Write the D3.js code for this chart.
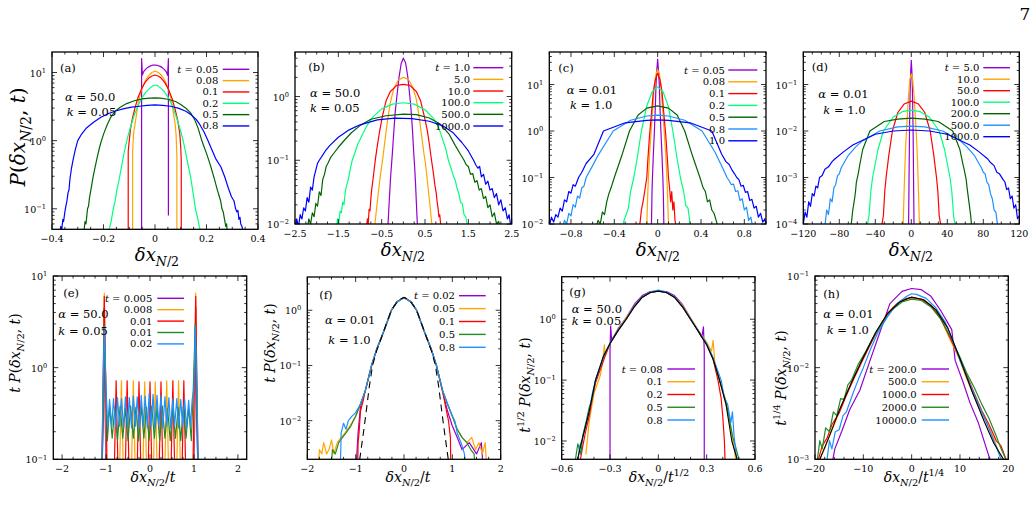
<!DOCTYPE html>
<html>
<head>
<meta charset="utf-8">
<script src="https://cdn.jsdelivr.net/npm/d3@7"></script>
<style>
body { margin: 0; background: #fff; }
</style>
</head>
<body>
<svg id="fig" width="1036" height="517"></svg>
<script>
var FONT = "'DejaVu Serif', serif";

// ---------- panel (a): alpha = 50, k = 0.05 ----------
var aTimes = ["0.05", "0.08", "0.1", "0.2", "0.5", "0.8"];
var aXTicks = [-0.4, -0.2, 0, 0.2, 0.4];
var aXLabels = ["\u22120.4", "\u22120.2", "0", "0.2", "0.4"];
var aYTicks = [0.1, 1, 10];
var aYExp = ["\u22121", "0", "1"];
var aT005 = [[-0.052,0.03],[-0.052,16],[-0.049,9.2],[-0.044,10.3],[-0.036,11.2],[-0.028,11.9],[-0.02,12.4],[-0.01,12.8],[0,12.9],[0.01,12.7],[0.02,12.3],[0.028,11.8],[0.036,11.1],[0.044,10.2],[0.049,9.1],[0.052,16],[0.052,0.08]];
var aT008 = [[-0.087,0.03],[-0.087,0.7],[-0.083,1.3],[-0.078,1.7],[-0.072,2.4],[-0.065,3.6],[-0.055,5.2],[-0.045,6.6],[-0.035,7.9],[-0.025,9],[-0.012,10],[0,10.5],[0.012,10.1],[0.025,9.1],[0.035,8],[0.045,6.7],[0.055,5.3],[0.065,3.7],[0.072,2.5],[0.078,1.8],[0.082,1.2],[0.085,0.6],[0.085,0.03]];
var aT01 = [[-0.104,0.03],[-0.104,0.7],[-0.1,1.0],[-0.095,1.5],[-0.088,2.1],[-0.078,3.0],[-0.066,4.3],[-0.052,5.8],[-0.038,7.2],[-0.024,8.3],[-0.012,8.9],[0,9.2],[0.012,8.9],[0.024,8.3],[0.038,7.1],[0.052,5.7],[0.066,4.2],[0.078,2.9],[0.088,2.0],[0.096,1.3],[0.1,0.8],[0.102,0.5],[0.102,0.03]];
var aT02 = [[-0.19,0.04],[-0.178,0.05],[-0.17,0.066],[-0.162,0.1],[-0.155,0.13],[-0.148,0.19],[-0.14,0.26],[-0.132,0.38],[-0.124,0.55],[-0.116,0.78],[-0.108,1.05],[-0.095,1.6],[-0.08,2.4],[-0.065,3.3],[-0.05,4.3],[-0.035,5.2],[-0.02,5.9],[-0.008,6.4],[0,6.5],[0.008,6.5],[0.02,6.0],[0.035,5.3],[0.05,4.4],[0.065,3.4],[0.08,2.4],[0.095,1.6],[0.108,1.05],[0.118,0.7],[0.128,0.45],[0.138,0.3],[0.148,0.17],[0.157,0.1],[0.165,0.075],[0.172,0.055],[0.178,0.045]];
var aT05 = [[-0.285,0.04],[-0.28,0.05],[-0.276,0.045],[-0.272,0.065],[-0.268,0.06],[-0.262,0.1],[-0.258,0.11],[-0.255,0.14],[-0.248,0.2],[-0.24,0.3],[-0.232,0.42],[-0.224,0.58],[-0.216,0.78],[-0.208,1.0],[-0.198,1.3],[-0.186,1.7],[-0.172,2.2],[-0.155,2.7],[-0.135,3.1],[-0.11,3.5],[-0.08,3.85],[-0.05,4.1],[-0.02,4.2],[0,4.25],[0.02,4.2],[0.05,4.05],[0.08,3.75],[0.1,3.4],[0.12,3.0],[0.14,2.5],[0.155,2.0],[0.168,1.5],[0.18,1.05],[0.19,0.82],[0.2,0.65],[0.21,0.5],[0.218,0.4],[0.23,0.28],[0.242,0.19],[0.25,0.15],[0.255,0.13],[0.26,0.1],[0.265,0.09],[0.27,0.07],[0.275,0.055],[0.278,0.06],[0.282,0.04]];
var aT08 = [[-0.37,0.045],[-0.366,0.055],[-0.362,0.05],[-0.358,0.07],[-0.355,0.065],[-0.35,0.09],[-0.346,0.11],[-0.342,0.13],[-0.338,0.17],[-0.334,0.19],[-0.33,0.28],[-0.324,0.4],[-0.317,0.55],[-0.309,0.75],[-0.3,1.0],[-0.285,1.25],[-0.265,1.55],[-0.24,1.85],[-0.21,2.2],[-0.18,2.5],[-0.15,2.75],[-0.12,2.95],[-0.09,3.1],[-0.06,3.2],[-0.03,3.3],[0,3.35],[0.03,3.3],[0.06,3.2],[0.09,3.0],[0.12,2.7],[0.14,2.4],[0.16,2.05],[0.175,1.7],[0.19,1.35],[0.206,1.0],[0.22,0.75],[0.235,0.55],[0.256,0.41],[0.27,0.3],[0.285,0.2],[0.297,0.15],[0.307,0.13],[0.313,0.1],[0.318,0.09],[0.322,0.095],[0.326,0.07],[0.33,0.075],[0.333,0.06],[0.338,0.055],[0.342,0.045]];

// ---------- panel (b): alpha = 50, k = 0.05, long times ----------
var bTimes = ["1.0", "5.0", "10.0", "100.0", "500.0", "1000.0"];
var bXTicks = [-2.5, -1.5, -0.5, 0.5, 1.5, 2.5];
var bXLabels = ["\u22122.5", "\u22121.5", "\u22120.5", "0.5", "1.5", "2.5"];
var bYTicks = [0.01, 0.1, 1];
var bYExp = ["\u22122", "\u22121", "0"];
var bT1 = [[-0.37,0.008],[-0.35,0.011],[-0.33,0.02],[-0.31,0.035],[-0.29,0.06],[-0.27,0.09],[-0.25,0.14],[-0.22,0.28],[-0.19,0.55],[-0.15,1.0],[-0.1,2.0],[-0.05,3.3],[0,4.0],[0.05,3.4],[0.1,2.1],[0.15,1.0],[0.18,0.6],[0.21,0.3],[0.24,0.13],[0.26,0.08],[0.28,0.045],[0.3,0.022],[0.32,0.011],[0.34,0.008]];
var bT5 = [[-0.68,0.008],[-0.65,0.011],[-0.62,0.017],[-0.59,0.026],[-0.55,0.045],[-0.52,0.065],[-0.48,0.1],[-0.43,0.19],[-0.37,0.4],[-0.3,0.8],[-0.22,1.35],[-0.12,1.8],[0,2.0],[0.12,1.85],[0.22,1.4],[0.3,0.9],[0.37,0.45],[0.43,0.22],[0.48,0.12],[0.51,0.09],[0.55,0.05],[0.59,0.028],[0.62,0.018],[0.65,0.011],[0.68,0.008]];
var bT10 = [[-0.86,0.008],[-0.83,0.012],[-0.81,0.01],[-0.79,0.017],[-0.77,0.016],[-0.75,0.025],[-0.73,0.035],[-0.7,0.05],[-0.67,0.075],[-0.64,0.11],[-0.6,0.17],[-0.55,0.28],[-0.48,0.5],[-0.4,0.85],[-0.3,1.2],[-0.15,1.5],[0,1.55],[0.15,1.5],[0.3,1.2],[0.4,0.85],[0.48,0.5],[0.55,0.3],[0.6,0.18],[0.65,0.1],[0.69,0.065],[0.73,0.04],[0.76,0.03],[0.78,0.022],[0.8,0.018],[0.82,0.013],[0.84,0.014],[0.86,0.01],[0.88,0.008]];
var bT100 = [[-1.55,0.008],[-1.52,0.012],[-1.49,0.01],[-1.46,0.016],[-1.43,0.015],[-1.4,0.022],[-1.37,0.02],[-1.34,0.032],[-1.31,0.04],[-1.27,0.05],[-1.22,0.075],[-1.18,0.1],[-1.12,0.13],[-1.05,0.18],[-0.95,0.25],[-0.85,0.34],[-0.7,0.48],[-0.5,0.64],[-0.25,0.76],[0,0.8],[0.25,0.76],[0.5,0.62],[0.7,0.45],[0.82,0.32],[0.92,0.2],[0.98,0.15],[1.04,0.1],[1.1,0.075],[1.16,0.055],[1.2,0.048],[1.24,0.036],[1.28,0.03],[1.32,0.022],[1.36,0.021],[1.4,0.014],[1.44,0.013],[1.47,0.01],[1.5,0.008]];
var bT500 = [[-2.22,0.008],[-2.18,0.012],[-2.14,0.01],[-2.1,0.015],[-2.06,0.013],[-2.02,0.021],[-1.98,0.019],[-1.94,0.032],[-1.9,0.028],[-1.86,0.05],[-1.82,0.06],[-1.78,0.08],[-1.74,0.09],[-1.68,0.11],[-1.6,0.13],[-1.5,0.16],[-1.35,0.21],[-1.2,0.27],[-1.0,0.35],[-0.75,0.44],[-0.4,0.5],[0,0.53],[0.3,0.52],[0.6,0.46],[0.85,0.37],[1.05,0.26],[1.2,0.17],[1.3,0.13],[1.4,0.1],[1.45,0.085],[1.5,0.08],[1.55,0.06],[1.6,0.062],[1.65,0.045],[1.7,0.048],[1.75,0.034],[1.8,0.036],[1.85,0.025],[1.9,0.027],[1.95,0.018],[2.0,0.02],[2.05,0.013],[2.1,0.015],[2.15,0.01],[2.2,0.011],[2.23,0.008]];
var bT1000 = [[-2.5,0.008],[-2.46,0.012],[-2.42,0.009],[-2.38,0.014],[-2.34,0.012],[-2.3,0.018],[-2.26,0.016],[-2.22,0.026],[-2.18,0.022],[-2.14,0.038],[-2.1,0.034],[-2.06,0.055],[-2.02,0.07],[-1.98,0.09],[-1.94,0.1],[-1.88,0.115],[-1.8,0.14],[-1.7,0.17],[-1.5,0.23],[-1.25,0.3],[-1.0,0.36],[-0.6,0.43],[-0.2,0.46],[0.2,0.45],[0.6,0.41],[0.9,0.35],[1.15,0.27],[1.35,0.19],[1.5,0.14],[1.62,0.1],[1.67,0.085],[1.72,0.075],[1.76,0.08],[1.8,0.055],[1.85,0.06],[1.9,0.042],[1.95,0.047],[2.0,0.034],[2.05,0.036],[2.1,0.026],[2.15,0.03],[2.2,0.02],[2.25,0.024],[2.3,0.016],[2.35,0.018],[2.4,0.012],[2.44,0.014],[2.48,0.009],[2.5,0.011]];

// ---------- panel (c): alpha = 0.01, k = 1 ----------
var cTimes = ["0.05", "0.08", "0.1", "0.2", "0.5", "0.8", "1.0"];
var cXTicks = [-0.8, -0.4, 0, 0.4, 0.8];
var cXLabels = ["\u22120.8", "\u22120.4", "0", "0.4", "0.8"];
var cYTicks = [0.01, 0.1, 1, 10];
var cYExp = ["\u22122", "\u22121", "0", "1"];
var cT005 = [[-0.06,0.008],[-0.057,0.01],[-0.052,0.05],[-0.048,0.1],[-0.04,0.3],[-0.03,1.0],[-0.022,3],[-0.015,10],[-0.008,20],[0,35],[0.008,20],[0.015,10],[0.022,3],[0.03,1.0],[0.04,0.3],[0.048,0.1],[0.053,0.04],[0.057,0.01],[0.06,0.008]];
var cT008 = [[-0.105,0.008],[-0.1,0.01],[-0.092,0.04],[-0.085,0.1],[-0.075,0.3],[-0.06,1.0],[-0.045,3],[-0.03,10],[-0.015,17],[0,21],[0.015,17],[0.03,10],[0.045,3],[0.06,1.0],[0.075,0.3],[0.085,0.1],[0.092,0.04],[0.1,0.01],[0.105,0.008]];
var cT01 = [[-0.17,0.008],[-0.16,0.012],[-0.15,0.02],[-0.135,0.03],[-0.12,0.05],[-0.1,0.1],[-0.09,0.25],[-0.075,0.8],[-0.06,2],[-0.04,7],[-0.02,13],[0,17.5],[0.02,13],[0.04,7],[0.06,2],[0.075,0.8],[0.09,0.25],[0.1,0.1],[0.11,0.06],[0.12,0.03],[0.13,0.05],[0.14,0.02],[0.15,0.03],[0.16,0.012],[0.175,0.008]];
var cT02 = [[-0.33,0.008],[-0.31,0.012],[-0.29,0.016],[-0.27,0.022],[-0.25,0.05],[-0.22,0.1],[-0.19,0.25],[-0.15,1.0],[-0.1,3.5],[-0.05,7],[0,8.9],[0.05,7],[0.1,3.3],[0.14,1.0],[0.18,0.25],[0.21,0.1],[0.24,0.05],[0.26,0.025],[0.28,0.022],[0.3,0.01],[0.32,0.008]];
var cT05 = [[-0.57,0.008],[-0.55,0.012],[-0.53,0.01],[-0.51,0.018],[-0.49,0.016],[-0.47,0.03],[-0.45,0.045],[-0.43,0.06],[-0.4,0.1],[-0.33,0.3],[-0.26,1.0],[-0.18,2.2],[-0.1,3.1],[0,3.47],[0.1,3.1],[0.18,2.2],[0.25,1.0],[0.32,0.3],[0.39,0.1],[0.42,0.06],[0.44,0.05],[0.46,0.03],[0.48,0.033],[0.5,0.02],[0.52,0.017],[0.54,0.012],[0.56,0.008]];
var cT08 = [[-0.88,0.008],[-0.86,0.012],[-0.84,0.01],[-0.82,0.017],[-0.8,0.015],[-0.78,0.026],[-0.76,0.023],[-0.74,0.04],[-0.72,0.036],[-0.7,0.06],[-0.68,0.065],[-0.66,0.1],[-0.6,0.18],[-0.55,0.3],[-0.41,1.0],[-0.25,1.7],[-0.1,2.1],[0,2.2],[0.1,2.1],[0.25,1.7],[0.41,1.0],[0.53,0.35],[0.6,0.16],[0.64,0.1],[0.66,0.085],[0.68,0.07],[0.7,0.072],[0.72,0.05],[0.74,0.052],[0.76,0.032],[0.78,0.035],[0.8,0.02],[0.82,0.023],[0.84,0.012],[0.86,0.014],[0.88,0.008]];
var cT1 = [[-1.0,0.009],[-0.98,0.014],[-0.96,0.011],[-0.94,0.016],[-0.92,0.014],[-0.9,0.022],[-0.88,0.019],[-0.86,0.033],[-0.84,0.03],[-0.82,0.05],[-0.8,0.046],[-0.78,0.07],[-0.76,0.065],[-0.73,0.1],[-0.7,0.13],[-0.66,0.2],[-0.59,0.31],[-0.5,1.0],[-0.3,1.5],[-0.1,1.7],[0,1.73],[0.1,1.7],[0.3,1.5],[0.5,1.0],[0.59,0.32],[0.63,0.22],[0.66,0.19],[0.69,0.14],[0.71,0.12],[0.73,0.1],[0.75,0.09],[0.77,0.065],[0.79,0.068],[0.81,0.048],[0.83,0.05],[0.85,0.032],[0.87,0.034],[0.89,0.022],[0.91,0.024],[0.93,0.014],[0.95,0.017],[0.97,0.011],[0.99,0.013],[1.0,0.009]];

// ---------- panel (d): alpha = 0.01, k = 1, long times ----------
var dTimes = ["5.0", "10.0", "50.0", "100.0", "200.0", "500.0", "1000.0"];
var dXTicks = [-120, -80, -40, 0, 40, 80, 120];
var dXLabels = ["\u2212120", "\u221280", "\u221240", "0", "40", "80", "120"];
var dYTicks = [1e-4, 1e-3, 1e-2, 1e-1];
var dYExp = ["\u22124", "\u22123", "\u22122", "\u22121"];
var dT5 = [[-3,1e-4],[-2.5,1e-3],[-2,0.01],[-1.3,0.07],[-0.6,0.2],[0,0.33],[0.6,0.2],[1.3,0.07],[2,0.01],[2.5,1e-3],[3,1e-4]];
var dT10 = [[-9.5,8e-5],[-9,1e-4],[-8,5e-4],[-7,2e-3],[-6,6e-3],[-4.5,0.02],[-3,0.06],[-1.5,0.13],[0,0.17],[1.5,0.13],[3,0.06],[4.5,0.02],[6,6e-3],[7,2e-3],[8,5e-4],[9,1e-4],[9.5,8e-5]];
var dT50 = [[-33,9e-5],[-31,1.5e-4],[-29.5,5e-4],[-28,1e-3],[-25,3e-3],[-21,0.01],[-15,0.025],[-8,0.038],[0,0.044],[8,0.038],[15,0.025],[21,0.01],[25,3e-3],[28,1e-3],[29.5,5e-4],[31,1.5e-4],[33,9e-5]];
var dT100 = [[-49,9e-5],[-47,1.5e-4],[-45,5e-4],[-43,1e-3],[-37,4e-3],[-31,0.01],[-20,0.02],[-10,0.026],[0,0.028],[10,0.026],[20,0.02],[31,0.01],[37,4e-3],[43,1e-3],[45,5e-4],[47,1.5e-4],[49,9e-5]];
var dT200 = [[-67,9e-5],[-65,2e-4],[-63,3.5e-4],[-62,5e-4],[-61,8e-4],[-59,1.2e-3],[-57,2e-3],[-54,4e-3],[-46,0.01],[-30,0.016],[-15,0.018],[0,0.019],[15,0.018],[30,0.016],[46,0.01],[54,4e-3],[57,2.1e-3],[59,1.4e-3],[61,9e-4],[62,6e-4],[64,3e-4],[66,1.5e-4],[67,9e-5]];
var dT500 = [[-96,9e-5],[-94,2e-4],[-92,1.6e-4],[-90,3.5e-4],[-88,3e-4],[-86,6e-4],[-84,7e-4],[-82,1.1e-3],[-80,1.2e-3],[-78,1.6e-3],[-70,3e-3],[-62,4.5e-3],[-55,6e-3],[-35,0.01],[-15,0.0123],[0,0.0127],[15,0.0123],[35,0.01],[55,6e-3],[62,4.5e-3],[70,3e-3],[78,1.6e-3],[80,1.3e-3],[82,1.2e-3],[84,8e-4],[86,7e-4],[88,4.5e-4],[90,3.5e-4],[92,2e-4],[94,1.8e-4],[96,9e-5]];
var dT1000 = [[-120,1e-4],[-118,1.8e-4],[-116,1.4e-4],[-114,3e-4],[-112,2.4e-4],[-110,4.5e-4],[-108,4e-4],[-106,6.5e-4],[-104,6e-4],[-102,1e-3],[-99,1.1e-3],[-96,1.5e-3],[-92,1.7e-3],[-88,2.2e-3],[-85,2.5e-3],[-75,3.6e-3],[-65,5e-3],[-40,8.5e-3],[-20,0.01],[0,0.0105],[20,0.01],[40,8.5e-3],[65,5e-3],[75,3.6e-3],[85,2.5e-3],[88,2.1e-3],[92,1.8e-3],[95,1.3e-3],[98,1.2e-3],[102,9e-4],[104,8e-4],[106,5.5e-4],[108,6e-4],[110,3.5e-4],[112,4e-4],[114,2.2e-4],[116,2.6e-4],[118,1.3e-4],[120,1.5e-4]];

// ---------- panel (e): scaled by t, alpha = 50 ----------
var eTimes = ["0.005", "0.008", "0.01", "0.01", "0.02"];
var eXTicks = [-2, -1, 0, 1, 2];
var eXLabels = ["\u22122", "\u22121", "0", "1", "2"];
var eYTicks = [0.1, 1, 10];
var eYExp = ["\u22121", "0", "1"];
var eT0005 = [[-1.1,0.05],[-1.06,0.3],[-1.045,4.5],[-1.02,0.3],[-0.99,0.05],[0.99,0.05],[1.02,0.3],[1.045,4.5],[1.06,0.3],[1.1,0.05]];
var eT0008 = [[-1.1,0.05],[-1.07,0.4],[-1.04,6.5],[-1.01,0.4],[-0.98,0.05],[-0.7,0.05],[-0.65,0.72],[-0.6,0.05],[-0.43,0.05],[-0.38,0.72],[-0.33,0.05],[-0.17,0.05],[-0.12,0.7],[-0.07,0.05],[0.07,0.05],[0.12,0.7],[0.17,0.05],[0.33,0.05],[0.38,0.72],[0.43,0.05],[0.6,0.05],[0.65,0.72],[0.7,0.05],[0.98,0.05],[1.01,0.4],[1.04,6.5],[1.07,0.4],[1.1,0.05]];
var eT001 = [[-1.1,0.05],[-1.07,0.5],[-1.04,6.0],[-1.0,0.4],[-0.97,0.05],[-0.82,0.05],[-0.77,0.72],[-0.72,0.05],[-0.57,0.05],[-0.52,0.72],[-0.47,0.05],[-0.3,0.05],[-0.25,0.7],[-0.2,0.05],[-0.05,0.05],[0,0.7],[0.05,0.05],[0.2,0.05],[0.25,0.7],[0.3,0.05],[0.47,0.05],[0.52,0.72],[0.57,0.05],[0.72,0.05],[0.77,0.72],[0.82,0.05],[0.97,0.05],[1.0,0.4],[1.04,6.0],[1.07,0.5],[1.1,0.05]];
var eT001b = [[-1.1,0.05],[-1.06,0.5],[-1.04,3.0],[-1.0,0.5],[-0.97,0.16],[-0.92,0.38],[-0.86,0.17],[-0.8,0.37],[-0.74,0.16],[-0.68,0.38],[-0.62,0.17],[-0.56,0.36],[-0.5,0.16],[-0.44,0.38],[-0.38,0.17],[-0.32,0.37],[-0.26,0.16],[-0.2,0.38],[-0.14,0.17],[-0.08,0.37],[-0.02,0.16],[0.04,0.38],[0.1,0.17],[0.16,0.37],[0.22,0.16],[0.28,0.38],[0.34,0.17],[0.4,0.36],[0.46,0.16],[0.52,0.38],[0.58,0.17],[0.64,0.37],[0.7,0.16],[0.76,0.38],[0.82,0.17],[0.88,0.37],[0.94,0.16],[0.98,0.5],[1.03,3.0],[1.06,0.5],[1.1,0.05]];
var eT002 = [[-1.1,0.06],[-1.07,0.6],[-1.04,2.8],[-1.0,0.6],[-0.96,0.22],[-0.92,0.45],[-0.87,0.23],[-0.83,0.46],[-0.78,0.22],[-0.74,0.47],[-0.69,0.23],[-0.65,0.46],[-0.6,0.22],[-0.56,0.48],[-0.51,0.23],[-0.47,0.47],[-0.42,0.22],[-0.38,0.49],[-0.33,0.23],[-0.29,0.48],[-0.24,0.22],[-0.2,0.5],[-0.15,0.23],[-0.11,0.49],[-0.06,0.22],[-0.02,0.52],[0.02,0.23],[0.07,0.51],[0.11,0.22],[0.16,0.5],[0.2,0.23],[0.25,0.5],[0.29,0.22],[0.34,0.48],[0.38,0.23],[0.43,0.47],[0.47,0.22],[0.52,0.46],[0.56,0.23],[0.61,0.46],[0.65,0.22],[0.7,0.45],[0.74,0.23],[0.79,0.45],[0.83,0.22],[0.88,0.44],[0.92,0.23],[0.96,0.45],[1.0,0.6],[1.03,2.8],[1.07,0.6],[1.1,0.06]];

// ---------- panel (f): scaled by t, alpha = 0.01 ----------
var fTimes = ["0.02", "0.05", "0.1", "0.5", "0.8"];
var fXTicks = [-2, -1, 0, 1, 2];
var fXLabels = ["\u22122", "\u22121", "0", "1", "2"];
var fYTicks = [0.01, 0.1, 1];
var fYExp = ["\u22122", "\u22121", "0"];
var fT002 = [[-1.0,0.001],[-0.95,0.006],[-0.9,0.018],[-0.8,0.035],[-0.67,0.1],[-0.57,0.19],[-0.43,0.39],[-0.26,1.0],[-0.15,1.4],[0,1.7],[0.15,1.4],[0.26,1.0],[0.43,0.39],[0.57,0.19],[0.67,0.1],[0.8,0.033],[0.9,0.015],[1.0,0.008],[1.1,0.005],[1.2,0.003],[1.35,0.004],[1.5,0.0025],[1.6,0.004],[1.65,0.001]];
var fT005 = [[-1.78,0.001],[-1.75,0.003],[-1.7,0.0025],[-1.66,0.004],[-1.6,0.0025],[-1.55,0.003],[-1.5,0.0045],[-1.45,0.0025],[-1.38,0.004],[-1.3,0.005],[-1.22,0.006],[-1.12,0.008],[-1.0,0.012],[-0.9,0.02],[-0.8,0.035],[-0.67,0.1],[-0.57,0.19],[-0.43,0.39],[-0.26,1.0],[-0.15,1.4],[0,1.7],[0.15,1.4],[0.26,1.0],[0.43,0.39],[0.57,0.19],[0.67,0.1],[0.8,0.033],[0.9,0.02],[1.0,0.012],[1.1,0.007],[1.2,0.005],[1.3,0.004],[1.4,0.005],[1.48,0.003],[1.55,0.004],[1.62,0.0025],[1.68,0.004],[1.72,0.001]];
var fT01 = [[-0.96,0.001],[-0.95,0.004],[-0.93,0.006],[-0.9,0.015],[-0.85,0.022],[-0.8,0.035],[-0.67,0.1],[-0.57,0.19],[-0.43,0.39],[-0.26,1.0],[-0.15,1.42],[0,1.72],[0.15,1.42],[0.26,1.0],[0.43,0.39],[0.57,0.19],[0.67,0.1],[0.8,0.034],[0.85,0.02],[0.92,0.01],[0.96,0.005],[0.97,0.001]];
var fT05 = [[-1.52,0.001],[-1.48,0.003],[-1.42,0.0025],[-1.35,0.004],[-1.27,0.005],[-1.2,0.006],[-1.1,0.008],[-1.0,0.012],[-0.9,0.02],[-0.8,0.035],[-0.67,0.1],[-0.57,0.19],[-0.43,0.39],[-0.26,1.0],[-0.15,1.4],[0,1.7],[0.15,1.4],[0.26,1.0],[0.43,0.39],[0.57,0.19],[0.67,0.1],[0.8,0.035],[0.9,0.02],[1.0,0.012],[1.1,0.007],[1.2,0.005],[1.3,0.004],[1.38,0.003],[1.45,0.0025],[1.48,0.001]];
var fT08 = [[-1.32,0.001],[-1.3,0.006],[-1.25,0.009],[-1.2,0.007],[-1.15,0.01],[-1.08,0.012],[-1.0,0.014],[-0.9,0.02],[-0.8,0.035],[-0.67,0.1],[-0.57,0.19],[-0.43,0.39],[-0.26,1.0],[-0.15,1.4],[0,1.7],[0.15,1.4],[0.26,1.0],[0.43,0.39],[0.57,0.19],[0.67,0.1],[0.8,0.035],[0.9,0.02],[1.0,0.012],[1.05,0.01],[1.1,0.006],[1.18,0.004],[1.25,0.0025],[1.3,0.001]];
var fGauss = [[-0.95,0.0012],[-0.9,0.0025],[-0.84,0.006],[-0.78,0.015],[-0.72,0.04],[-0.65,0.1],[-0.57,0.18],[-0.43,0.39],[-0.35,0.62],[-0.26,1.0],[-0.2,1.2],[-0.1,1.55],[0,1.7],[0.1,1.55],[0.2,1.2],[0.26,1.0],[0.35,0.62],[0.43,0.39],[0.57,0.18],[0.65,0.1],[0.72,0.04],[0.78,0.015],[0.84,0.006],[0.9,0.0025],[0.95,0.0012]];

// ---------- panel (g): scaled by t^1/2, alpha = 50 ----------
var gTimes = ["0.08", "0.1", "0.2", "0.5", "0.8"];
var gXTicks = [-0.6, -0.3, 0, 0.3, 0.6];
var gXLabels = ["\u22120.6", "\u22120.3", "0", "0.3", "0.6"];
var gYTicks = [0.01, 0.1, 1];
var gYExp = ["\u22122", "\u22121", "0"];
var gT008 = [[-0.3,0.003],[-0.3,0.3],[-0.296,0.78],[-0.29,0.45],[-0.25,0.7],[-0.2,1.05],[-0.15,1.75],[-0.1,2.45],[-0.05,2.85],[0,2.9],[0.05,2.85],[0.1,2.45],[0.15,1.75],[0.2,1.05],[0.25,0.62],[0.27,0.5],[0.28,0.75],[0.285,0.3],[0.285,0.003]];
var gT01 = [[-0.45,0.006],[-0.43,0.02],[-0.4,0.06],[-0.36,0.12],[-0.345,0.2],[-0.335,0.38],[-0.33,0.25],[-0.3,0.4],[-0.25,0.68],[-0.2,1.05],[-0.15,1.65],[-0.1,2.35],[-0.05,2.8],[0,2.95],[0.05,2.75],[0.1,2.35],[0.15,1.7],[0.2,1.05],[0.25,0.65],[0.3,0.42],[0.33,0.3],[0.34,0.45],[0.35,0.2],[0.38,0.1],[0.42,0.04],[0.46,0.012],[0.48,0.005]];
var gT02 = [[-0.49,0.004],[-0.47,0.008],[-0.45,0.015],[-0.43,0.025],[-0.41,0.05],[-0.39,0.09],[-0.36,0.15],[-0.33,0.25],[-0.3,0.4],[-0.25,0.65],[-0.2,1.0],[-0.15,1.6],[-0.1,2.3],[-0.05,2.75],[0,2.9],[0.05,2.75],[0.1,2.3],[0.15,1.6],[0.2,1.0],[0.25,0.63],[0.3,0.38],[0.34,0.22],[0.37,0.1],[0.39,0.05],[0.4,0.025],[0.41,0.01],[0.415,0.004]];
var gT05 = [[-0.52,0.004],[-0.5,0.009],[-0.48,0.006],[-0.47,0.012],[-0.45,0.02],[-0.43,0.035],[-0.41,0.05],[-0.39,0.1],[-0.34,0.24],[-0.3,0.4],[-0.25,0.66],[-0.2,1.0],[-0.15,1.6],[-0.1,2.3],[-0.05,2.75],[0,2.9],[0.05,2.75],[0.1,2.3],[0.15,1.6],[0.2,1.0],[0.25,0.63],[0.3,0.39],[0.34,0.23],[0.39,0.08],[0.42,0.045],[0.44,0.025],[0.46,0.012],[0.48,0.008],[0.5,0.005],[0.51,0.004]];
var gT08 = [[-0.5,0.004],[-0.49,0.008],[-0.47,0.011],[-0.45,0.018],[-0.43,0.03],[-0.41,0.06],[-0.39,0.1],[-0.34,0.25],[-0.3,0.4],[-0.25,0.66],[-0.2,1.0],[-0.15,1.62],[-0.1,2.35],[-0.05,2.8],[0,3.0],[0.05,2.8],[0.1,2.35],[0.15,1.62],[0.2,1.0],[0.25,0.64],[0.3,0.4],[0.34,0.23],[0.39,0.1],[0.41,0.05],[0.43,0.04],[0.45,0.02],[0.46,0.03],[0.47,0.012],[0.48,0.007],[0.49,0.004]];
var gFit = [[-0.51,0.004],[-0.475,0.01],[-0.43,0.03],[-0.39,0.1],[-0.34,0.25],[-0.3,0.4],[-0.25,0.65],[-0.2,1.0],[-0.15,1.6],[-0.1,2.3],[-0.05,2.75],[0,2.9],[0.05,2.75],[0.1,2.3],[0.15,1.6],[0.2,1.0],[0.25,0.62],[0.3,0.38],[0.34,0.22],[0.38,0.1],[0.42,0.04],[0.456,0.01],[0.5,0.004]];

// ---------- panel (h): scaled by t^1/4, alpha = 0.01 ----------
var hTimes = ["200.0", "500.0", "1000.0", "2000.0", "10000.0"];
var hXTicks = [-20, -10, 0, 10, 20];
var hXLabels = ["\u221220", "\u221210", "0", "10", "20"];
var hYTicks = [0.001, 0.01, 0.1];
var hYExp = ["\u22123", "\u22122", "\u22121"];
var hT200 = [[-16.3,0.001],[-15.9,0.0013],[-14.5,0.002],[-12.8,0.0035],[-10.7,0.0057],[-8.6,0.012],[-6.5,0.025],[-4.5,0.05],[-2,0.068],[0,0.073],[2,0.071],[4,0.06],[6,0.042],[8.3,0.026],[9,0.012],[10.7,0.0068],[12.1,0.0041],[13.8,0.0025],[15.5,0.0013],[16.2,0.001]];
var hT500 = [[-19,0.001],[-18,0.0013],[-17,0.0018],[-16,0.0024],[-15,0.0033],[-14,0.0045],[-12.5,0.0068],[-11,0.01],[-10,0.013],[-8,0.021],[-6,0.032],[-4,0.045],[-2,0.055],[0,0.058],[2,0.055],[4,0.047],[6,0.034],[8,0.02],[10,0.012],[11,0.0085],[12.5,0.0055],[14,0.0036],[15.5,0.0025],[17,0.0017],[18,0.0012],[19,0.001]];
var hT1000 = [[-19.3,0.001],[-18.5,0.0014],[-17.5,0.0017],[-16.5,0.0024],[-15,0.0032],[-13.5,0.005],[-12,0.0075],[-10.5,0.011],[-9,0.016],[-7,0.026],[-5,0.039],[-3,0.05],[-1,0.057],[0,0.058],[2,0.056],[4,0.048],[6,0.035],[8,0.021],[10,0.0125],[11.5,0.008],[13,0.0052],[14.5,0.0034],[16,0.0024],[17.5,0.0016],[18.5,0.0014],[19.5,0.001]];
var hT2000 = [[-19.5,0.001],[-19,0.0016],[-18.5,0.0013],[-17.8,0.0022],[-17,0.002],[-16.2,0.0033],[-15.5,0.003],[-14.7,0.0046],[-14,0.0045],[-13.2,0.0065],[-12.5,0.0072],[-11,0.011],[-9.5,0.015],[-8,0.021],[-6,0.031],[-4,0.043],[-2,0.052],[0,0.056],[2,0.054],[4,0.046],[6,0.034],[8,0.022],[10,0.013],[11.5,0.0085],[13,0.006],[14.5,0.004],[16,0.0028],[17.5,0.0018],[18.5,0.0013],[19.5,0.001]];
var hT10000 = [[-17.5,0.001],[-17,0.0016],[-16.5,0.0013],[-15.8,0.002],[-15,0.0021],[-14.2,0.003],[-13.5,0.0033],[-12,0.0055],[-11,0.0075],[-10,0.01],[-8.5,0.016],[-7,0.024],[-5,0.036],[-3,0.05],[-1,0.06],[0,0.064],[1,0.063],[3,0.057],[5,0.045],[7,0.031],[9,0.017],[10,0.012],[11,0.009],[12.5,0.0058],[14,0.0038],[15.5,0.0025],[17,0.0016],[18.5,0.001]];
var hFit = [[-19,0.001],[-17,0.0018],[-15,0.0034],[-12.5,0.0068],[-10,0.013],[-7.5,0.024],[-5,0.039],[-2.5,0.052],[0,0.059],[2.5,0.055],[5,0.043],[7.5,0.027],[10,0.0125],[12.5,0.0055],[15,0.0026],[17,0.0015],[19,0.001]];

var C = {
  purple: "#9400d3", orange: "#ffa500", red: "#ff0000", spring: "#00ff7f",
  dkgreen: "#006400", blue: "#0000ff", lblue: "#1e90ff", green: "#228b22", black: "#000"
};

var svg = d3.select("#fig");

// text with italic / sub / sup pieces
function rich(g, parts, o) {
  var t = g.append("text")
    .attr("x", o.x).attr("y", o.y)
    .style("font-family", FONT)
    .attr("font-size", o.size)
    .attr("fill", "#000")
    .attr("text-anchor", o.anchor || "start");
  if (o.rotate) t.attr("transform", "rotate(" + o.rotate + "," + o.x + "," + o.y + ")");
  var shift = 0;
  parts.forEach(function(p) {
    var s = p[1] || "";
    var sub = s.indexOf("sub") >= 0, sup = s.indexOf("sup") >= 0;
    var size = (sub || sup) ? o.size * 0.7 : o.size;
    var target = sub ? o.size * 0.28 : (sup ? -o.size * 0.4 : 0);
    var ts = t.append("tspan").text(p[0]).attr("font-size", size).attr("dy", target - shift);
    if (s.indexOf("i") >= 0) ts.attr("font-style", "italic");
    shift = target;
  });
  return t;
}

function drawPanel(p) {
  var L = p.box[0], R = p.box[1], T = p.box[2], B = p.box[3];
  var x = d3.scaleLinear().domain(p.xDom).range([L, R]);
  var y = d3.scaleLog().domain(p.yDom).range([B, T]);
  var g = svg.append("g");

  svg.append("clipPath").attr("id", "clip" + p.name)
    .append("rect").attr("x", L).attr("y", T).attr("width", R - L).attr("height", B - T);

  var line = d3.line().x(function(d) { return x(d[0]); }).y(function(d) { return y(d[1]); });
  var cg = g.append("g").attr("clip-path", "url(#clip" + p.name + ")");
  p.series.forEach(function(s) {
    cg.append("path")
      .attr("d", line(s.data))
      .attr("fill", "none")
      .attr("stroke", s.color)
      .attr("stroke-width", s.width || 1.2)
      .attr("stroke-linejoin", "round")
      .attr("stroke-dasharray", s.dash || null);
  });

  // ticks, all four sides, pointing in
  var tk = g.append("g").attr("stroke", "#000").attr("stroke-width", 0.8);
  function xt(v, len) {
    tk.append("line").attr("x1", x(v)).attr("x2", x(v)).attr("y1", B).attr("y2", B - len);
    tk.append("line").attr("x1", x(v)).attr("x2", x(v)).attr("y1", T).attr("y2", T + len);
  }
  function yt(v, len) {
    tk.append("line").attr("y1", y(v)).attr("y2", y(v)).attr("x1", L).attr("x2", L + len);
    tk.append("line").attr("y1", y(v)).attr("y2", y(v)).attr("x1", R).attr("x2", R - len);
  }
  var st = p.xMinor;
  var start = Math.ceil(p.xDom[0] / st - 1e-6);
  var end = Math.floor(p.xDom[1] / st + 1e-6);
  for (var i = start; i <= end; i++) {
    var v = i * st;
    var isMajor = p.xTicks.some(function(m) { return Math.abs(m - v) < st / 10; });
    if (!isMajor) xt(v, 2.5);
  }
  p.xTicks.forEach(function(v) { xt(v, 5); });
  var e0 = Math.floor(Math.log10(p.yDom[0])), e1 = Math.ceil(Math.log10(p.yDom[1]));
  for (var e = e0; e <= e1; e++) {
    for (var k = 2; k <= 9; k++) {
      var mv = k * Math.pow(10, e);
      if (mv > p.yDom[0] * 1.0001 && mv < p.yDom[1] * 0.9999) yt(mv, 2.5);
    }
  }
  p.yTicks.forEach(function(v) { yt(v, 5); });

  g.append("rect").attr("x", L).attr("y", T).attr("width", R - L).attr("height", B - T)
    .attr("fill", "none").attr("stroke", "#000").attr("stroke-width", 1.3);

  // tick labels
  p.xTicks.forEach(function(v, i) {
    rich(g, [[p.xLabels[i]]], { x: x(v), y: B + 13, size: 9.5, anchor: "middle" });
  });
  p.yTicks.forEach(function(v, i) {
    rich(g, [["10"], [p.yExp[i], "sup"]], { x: L - 6, y: y(v) + 4, size: 9.5, anchor: "end" });
  });

  // legend
  var lg = p.legend;
  var ls = p.series.filter(function(s) { return !s.ref; });
  lg.labels.forEach(function(lab, i) {
    var yy = lg.y0 + i * lg.dy;
    var parts = i === 0 ? [["t", "i"], [" = " + lab]] : [[lab]];
    rich(g, parts, { x: lg.tx, y: yy + 3.5, size: 10, anchor: "end" });
    g.append("line").attr("x1", lg.l0).attr("x2", lg.l1).attr("y1", yy).attr("y2", yy)
      .attr("stroke", ls[i].color).attr("stroke-width", 1.4);
  });

  // panel letter and parameters
  rich(g, [["(" + p.name + ")"]], { x: p.notes[0][0], y: p.notes[0][1], size: 11.5 });
  rich(g, [["\u03b1", "i"], [" = " + p.alpha]], { x: p.notes[1][0], y: p.notes[1][1], size: 11.5 });
  rich(g, [["k", "i"], [" = " + p.k]], { x: p.notes[2][0], y: p.notes[2][1], size: 11.5 });
}

var topRow = [C.purple, C.orange, C.red, C.spring, C.dkgreen];
var botRow = [C.purple, C.orange, C.red, C.green, C.lblue];
function mk(datas, colors) {
  return datas.map(function(d, i) { return { data: d, color: colors[i] }; });
}

var panels = [
  { name: "a", box: [52, 258, 52, 229.3], xDom: [-0.4, 0.4], yDom: [0.05, 20], xTicks: aXTicks, xLabels: aXLabels, xMinor: 0.05,
    yTicks: aYTicks, yExp: aYExp, alpha: "50.0", k: "0.05",
    series: mk([aT005, aT008, aT01, aT02, aT05, aT08], topRow.concat([C.blue])),
    legend: { tx: 218.3, l0: 222.7, l1: 249.3, y0: 69.3, dy: 11.33, labels: aTimes },
    notes: [[60, 72], [65, 101], [66.7, 116]] },
  { name: "b", box: [295, 511.7, 52, 224], xDom: [-2.5, 2.5], yDom: [0.01, 5], xTicks: bXTicks, xLabels: bXLabels, xMinor: 0.25,
    yTicks: bYTicks, yExp: bYExp, alpha: "50.0", k: "0.05",
    series: mk([bT1, bT5, bT10, bT100, bT500, bT1000], topRow.concat([C.blue])),
    legend: { tx: 470, l0: 473.3, l1: 503.3, y0: 67.7, dy: 11.66, labels: bTimes },
    notes: [[308.3, 71], [310, 97], [310, 111.5]] },
  { name: "c", box: [549.3, 766, 52, 224], xDom: [-1, 1], yDom: [0.01, 50], xTicks: cXTicks, xLabels: cXLabels, xMinor: 0.1,
    yTicks: cYTicks, yExp: cYExp, alpha: "0.01", k: "1.0",
    series: mk([cT005, cT008, cT01, cT02, cT05, cT08, cT1], topRow.concat([C.lblue, C.blue])),
    legend: { tx: 725, l0: 728.3, l1: 757.3, y0: 70, dy: 11.8, labels: cTimes },
    notes: [[558.3, 72], [566.7, 94], [570, 109]] },
  { name: "d", box: [803.3, 1019.3, 52, 224], xDom: [-120, 120], yDom: [1e-4, 0.5], xTicks: dXTicks, xLabels: dXLabels, xMinor: 10,
    yTicks: dYTicks, yExp: dYExp, alpha: "0.01", k: "1.0",
    series: mk([dT5, dT10, dT50, dT100, dT200, dT500, dT1000], topRow.concat([C.lblue, C.blue])),
    legend: { tx: 979.3, l0: 983.3, l1: 1010, y0: 67.7, dy: 11.5, labels: dTimes },
    notes: [[811.7, 71], [818.3, 97.5], [823.3, 113.5]] },
  { name: "e", box: [53.3, 246.7, 276, 459.3], xDom: [-2.2, 2.2], yDom: [0.1, 10], xTicks: eXTicks, xLabels: eXLabels, xMinor: 0.25,
    yTicks: eYTicks, yExp: eYExp, alpha: "50.0", k: "0.05",
    series: mk([eT0005, eT0008, eT001, eT001b, eT002], botRow),
    legend: { tx: 152.3, l0: 157.3, l1: 184, y0: 298.3, dy: 11.4, labels: eTimes },
    notes: [[63.3, 297], [58.3, 317.5], [58.3, 335]] },
  { name: "f", box: [307.3, 500.7, 277, 459.3], xDom: [-2, 2], yDom: [0.002, 4], xTicks: fXTicks, xLabels: fXLabels, xMinor: 0.25,
    yTicks: fYTicks, yExp: fYExp, alpha: "0.01", k: "1.0",
    series: mk([fT002, fT005, fT01, fT05, fT08], botRow).concat([{ data: fGauss, color: C.black, ref: true, dash: "7,5", width: 1.1 }]),
    legend: { tx: 455, l0: 459, l1: 485.7, y0: 295.7, dy: 12.9, labels: fTimes },
    notes: [[319.3, 299], [325, 324], [328.3, 344]] },
  { name: "g", box: [561.7, 755, 276.7, 459.3], xDom: [-0.6, 0.6], yDom: [0.005, 5], xTicks: gXTicks, xLabels: gXLabels, xMinor: 0.1,
    yTicks: gYTicks, yExp: gYExp, alpha: "50.0", k: "0.05",
    series: mk([gT008, gT01, gT02, gT05, gT08], botRow).concat([{ data: gFit, color: C.black, ref: true, width: 1.1 }]),
    legend: { tx: 662.7, l0: 667.3, l1: 695, y0: 369, dy: 12.75, labels: gTimes },
    notes: [[569.3, 296], [571.7, 312.5], [571.7, 325]] },
  { name: "h", box: [815, 1008.3, 276, 459.3], xDom: [-20, 20], yDom: [0.001, 0.1], xTicks: hXTicks, xLabels: hXLabels, xMinor: 2,
    yTicks: hYTicks, yExp: hYExp, alpha: "0.01", k: "1.0",
    series: mk([hT200, hT500, hT1000, hT2000, hT10000], botRow).concat([{ data: hFit, color: C.black, ref: true, width: 1.1 }]),
    legend: { tx: 916.7, l0: 921.7, l1: 949, y0: 369, dy: 12.75, labels: hTimes },
    notes: [[823.3, 297.5], [823.3, 317.5], [826.7, 334]] }
];

panels.forEach(drawPanel);

// axis titles
var lab = svg.append("g");
var dx = [["\u03b4x", "i"], ["N", "subi"], ["/2", "sub"]];
rich(lab, [["P", "i"], ["("], ["\u03b4x", "i"], ["N", "subi"], ["/2", "sub"], [", "], ["t", "i"], [")"]],
  { x: 25, y: 137, size: 20, anchor: "middle", rotate: -90 });
rich(lab, dx, { x: 157, y: 261, size: 18, anchor: "middle" });
[403, 658, 911].forEach(function(cx) {
  rich(lab, dx, { x: cx, y: 256, size: 18, anchor: "middle" });
});
var tP = [["P", "i"], ["("], ["\u03b4x", "i"], ["N", "subi"], ["/2", "sub"], [", "], ["t", "i"], [")"]];
rich(lab, [["t", "i"], [" "]].concat(tP), { x: 20, y: 353, size: 14, anchor: "middle", rotate: -90 });
rich(lab, [["t", "i"], [" "]].concat(tP), { x: 275, y: 343, size: 14, anchor: "middle", rotate: -90 });
rich(lab, [["t", "i"], ["1/2", "sup"], [" "]].concat(tP), { x: 530, y: 385, size: 14, anchor: "middle", rotate: -90 });
rich(lab, [["t", "i"], ["1/4", "sup"], [" "]].concat(tP), { x: 786, y: 378, size: 14, anchor: "middle", rotate: -90 });
rich(lab, dx.concat([["/"], ["t", "i"]]), { x: 153, y: 482, size: 14, anchor: "middle" });
rich(lab, dx.concat([["/"], ["t", "i"]]), { x: 408, y: 482, size: 14, anchor: "middle" });
rich(lab, dx.concat([["/"], ["t", "i"], ["1/2", "sup"]]), { x: 659, y: 482, size: 14, anchor: "middle" });
rich(lab, dx.concat([["/"], ["t", "i"], ["1/4", "sup"]]), { x: 914, y: 482, size: 14, anchor: "middle" });

// page number
rich(svg, [["7"]], { x: 1025, y: 20, size: 17, anchor: "middle" });
</script>
</body>
</html>
